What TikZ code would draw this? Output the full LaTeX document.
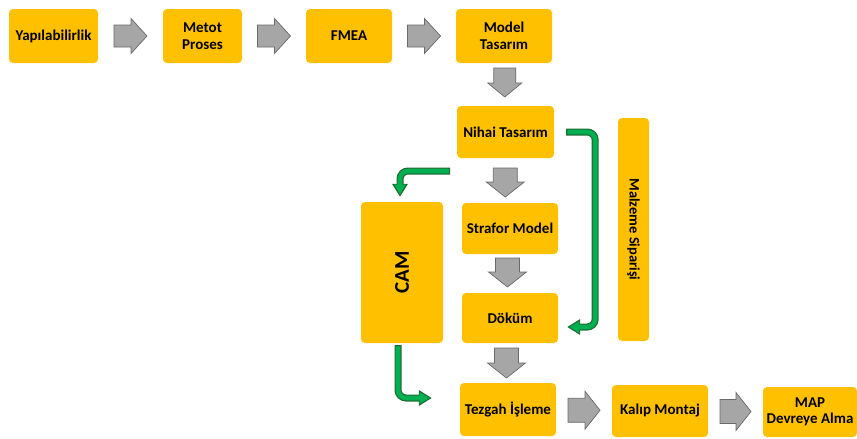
\documentclass[tikz,border=0pt]{standalone}
\usepackage{fontspec}
\usepackage{graphicx}
\setmainfont{Carlito}
\usetikzlibrary{arrows.meta,calc}
\definecolor{boxyellow}{HTML}{FFC000}
\definecolor{arrgray}{HTML}{A6A6A6}
\definecolor{arrgraydark}{HTML}{6A6A6A}
\definecolor{arrgreen}{HTML}{00B050}
\definecolor{arrgreendark}{HTML}{1F6B35}
\tikzset{
  box/.style={fill=boxyellow, rounded corners=4pt, inner sep=1pt, align=center,
    font=\fontsize{15}{16.5}\selectfont\bfseries, text=black},
  blockarrow/.style={draw=arrgraydark, fill=arrgray, line width=0.7pt, line join=miter},
  pics/barrow/.style args={#1/#2/#3/#4}{code={
    \path[blockarrow] (-#1/2,-#3/2) -- (#1/2-#4,-#3/2) -- (#1/2-#4,-#2/2) -- (#1/2,0)
      -- (#1/2-#4,#2/2) -- (#1/2-#4,#3/2) -- (-#1/2,#3/2) -- cycle;
  }},
  goutline/.style={draw=arrgreendark, line width=7pt, rounded corners=8pt,
    -{Triangle[length=13pt,width=15pt]}},
  ginner/.style={draw=arrgreen, line width=4.6pt, rounded corners=8pt,
    shorten >=2.2pt, shorten <=1.2pt, -{Triangle[length=10pt,width=11pt]}}
}
\begin{document}
\begin{tikzpicture}[x=1pt,y=-1pt]
\useasboundingbox (0,0) rectangle (857,439);
% boxes
\node[box, minimum width=89pt, minimum height=54pt] (yap) at (53.5,36) {Yapılabilirlik};
\node[box, minimum width=79pt, minimum height=54pt] (metot) at (202.5,36) {Metot\\Proses};
\node[box, minimum width=86pt, minimum height=54pt] (fmea) at (349,36) {FMEA};
\node[box, minimum width=96pt, minimum height=54pt] (model) at (504,36) {Model\\Tasarım};
\node[box, minimum width=97pt, minimum height=52pt] (nihai) at (505.5,132) {Nihai Tasarım};
\node[box, minimum width=96pt, minimum height=51pt] (strafor) at (510,228.5) {Strafor Model};
\node[box, minimum width=96pt, minimum height=50pt] (dokum) at (510,318) {Döküm};
\node[box, minimum width=82pt, minimum height=141pt, font=\fontsize{21}{23}\selectfont\bfseries] (cam) at (402,272.5) {\rotatebox{90}{CAM}};
\node[box, minimum width=31pt, minimum height=223pt, font=\fontsize{14.5}{16}\selectfont\bfseries] (malz) at (633.5,229.5) {\rotatebox{-90}{Malzeme Siparişi}};
\node[box, minimum width=96pt, minimum height=53pt] (tezgah) at (508,409.5) {Tezgah İşleme};
\node[box, minimum width=96pt, minimum height=52pt] (kalip) at (660,411) {Kalıp Montaj};
\node[box, minimum width=94pt, minimum height=50pt] (map) at (810,412) {MAP\\Devreye Alma};
% gray block arrows (centres between the boxes)
\coordinate (a1) at ($(yap.east)!0.5!(metot.west)$);
\coordinate (a2) at ($(metot.east)!0.5!(fmea.west)$);
\coordinate (a3) at ($(fmea.east)!0.5!(model.west)$);
\coordinate (d1) at ([yshift=2pt]$(model.south)!0.5!(nihai.north)$);
\coordinate (d2) at ([xshift=-2.5pt,yshift=-2pt]$(nihai.south)!0.5!(strafor.north)$);
\coordinate (d3) at ([xshift=-2.5pt,yshift=1pt]$(strafor.south)!0.5!(dokum.north)$);
\coordinate (d4) at ([xshift=-2.5pt]$(dokum.south)!0.5!(tezgah.north)$);
\coordinate (r4) at ($(tezgah.east)!0.5!(kalip.west)$);
\coordinate (r5) at ($(kalip.east)!0.5!(map.west)$);
\pic at (a1) {barrow=33/35/22/16};
\pic at (a2) {barrow=33/35/22/16};
\pic at (a3) {barrow=33/35/22/16};
\pic[rotate=-90] at (d1) {barrow=29/34/22/14};
\pic[rotate=-90] at (d2) {barrow=29/38/24/15};
\pic[rotate=-90] at (d3) {barrow=29/38/24/15};
\pic[rotate=-90] at (d4) {barrow=30/38/24/15};
\pic at (r4) {barrow=32/38/24/15};
\pic at (r5) {barrow=31/38/24/15};
% green arrows
\coordinate (g1s) at ([xshift=12pt]nihai.east);
\coordinate (g1e) at ([xshift=9pt,yshift=-9pt]dokum.east);
\coordinate (g2s) at (450,171);
\coordinate (g2e) at ([xshift=-2pt,yshift=5pt]cam.north);
\coordinate (g3s) at ([xshift=-4pt,yshift=-2pt]cam.south);
\coordinate (g3e) at ([xshift=-28pt,yshift=11.5pt]tezgah.west);
\draw[goutline] (g1s) -- ++(29,0) |- (g1e);
\draw[ginner] (g1s) -- ++(29,0) |- (g1e);
\draw[goutline] (g2s) -| (g2e);
\draw[ginner] (g2s) -| (g2e);
\draw[goutline] (g3s) |- (g3e);
\draw[ginner] (g3s) |- (g3e);
\end{tikzpicture}
\end{document}
